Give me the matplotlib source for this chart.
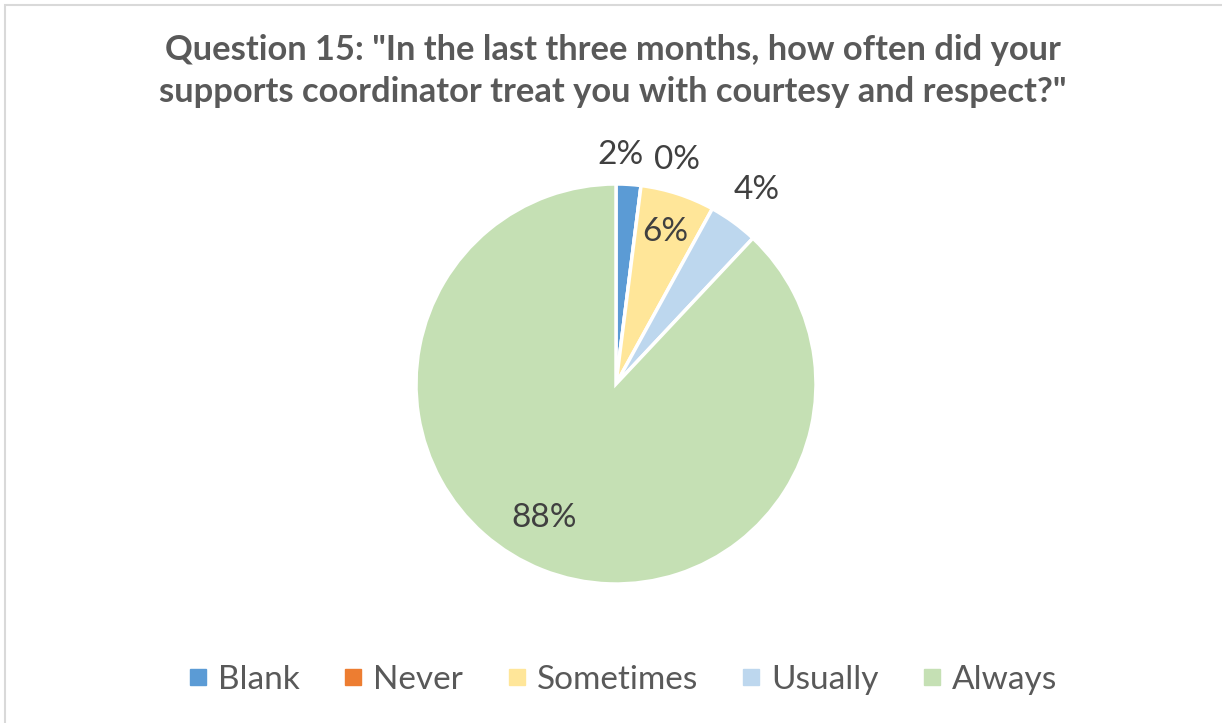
import matplotlib
matplotlib.use("Agg")
import matplotlib.pyplot as plt
import numpy as np
from matplotlib.patches import Rectangle
from matplotlib.lines import Line2D

title = 'Question 15: "In the last three months, how often did your\nsupports coordinator treat you with courtesy and respect?"'
categories = ["Blank", "Never", "Sometimes", "Usually", "Always"]
values = [2, 0, 6, 4, 88]
labels = ["2%", "0%", "6%", "4%", "88%"]
colors = ["#5B9BD5", "#ED7D31", "#FFE699", "#BDD7EE", "#C5E0B4"]

# label placement (radius fraction, angular nudge in degrees)
label_r = [1.145, 1.16, 0.80, 1.20, 0.76]
label_nudge = [2.5, -8, 0, 0, -6.7]

plt.rcParams['font.family'] = ['Lato', 'DejaVu Sans']
W, H = 1222, 723
fig = plt.figure(figsize=(W/100, H/100), dpi=100)

# border
fig.patches.append(Rectangle((5/W, -0.1), 1.2, 1 - 5/H + 0.1, transform=fig.transFigure,
                             fill=False, edgecolor="#D9D9D9", linewidth=1.5))

cx, cy, R = 616, 384, 200
ax = fig.add_axes([(cx-R)/W, (H-cy-R)/H, 2*R/W, 2*R/H])
wedges, _ = ax.pie(values, colors=colors, startangle=90, counterclock=False,
                   radius=1, wedgeprops=dict(edgecolor="white", linewidth=2.5))
ax.set_xlim(-1, 1)
ax.set_ylim(-1, 1)
ax.set_aspect("equal")
ax.axis("off")

total = sum(values)
cum = 0
for v, lab, r, nd in zip(values, labels, label_r, label_nudge):
    mid = cum + v / 2
    ang = np.deg2rad(90 - mid / total * 360 + nd)
    ax.text(r*np.cos(ang), r*np.sin(ang), lab, ha="center", va="center",
            fontsize=24, color="#404040", clip_on=False)
    cum += v

fig.text(613/W, 1 - 71/H, title, ha="center", va="center", fontsize=24.8,
         fontweight="bold", color="#595959", linespacing=1.35)

handles = [Line2D([], [], marker="s", linestyle="none", markersize=12,
                  markerfacecolor=c, markeredgecolor=c) for c in colors]
fig.legend(handles, categories, loc="center", bbox_to_anchor=(0.509, 1 - 680/H),
           ncol=5, frameon=False, fontsize=24, labelcolor="#595959",
           handletextpad=0.25, columnspacing=1.25, handlelength=0.7)

fig.savefig("out.png", dpi=100, facecolor="white")
